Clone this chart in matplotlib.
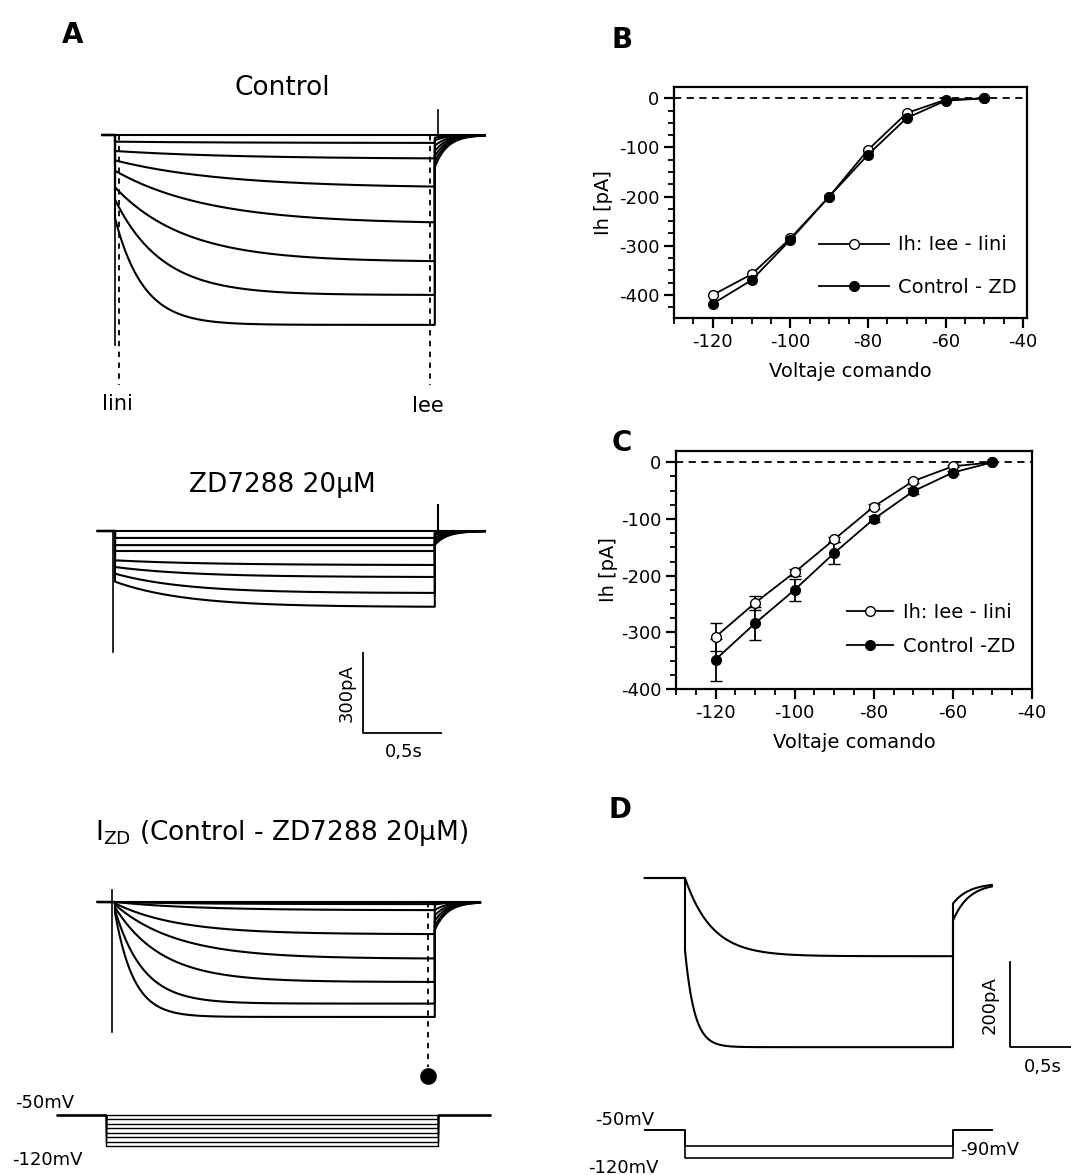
import numpy as np
import matplotlib
matplotlib.use('Agg')
import matplotlib.pyplot as plt

plt.rcParams['font.family'] = ['Liberation Sans Narrow', 'DejaVu Sans']
plt.rcParams['axes.unicode_minus'] = False

W, H = 1071, 1175

# --- A: current traces, one per command step (-50 ... -120 mV) ---
steps_mV = [-50, -60, -70, -80, -90, -100, -110, -120]

ctrl_inst = [0, -25, -60, -95, -134, -196, -242, -312]      # pA at step onset
ctrl_ss = [0, -30, -90, -199, -334, -476, -600, -712]        # pA at step end
ctrl_tau = [0.8, 0.8, 0.8, 0.7, 0.6, 0.45, 0.3, 0.18]        # s
ctrl_tail = [0, -10, -20, -40, -60, -80, -100, -120]

zd_inst = [0, -26, -53, -75, -110, -135, -160, -190]
zd_ss = [0, -26, -53, -75, -128, -173, -233, -285]
zd_tau = [0.6, 0.6, 0.6, 0.6, 0.6, 0.5, 0.45, 0.45]
zd_tail = [0, -5, -10, -15, -25, -35, -45, -52]

izd_inst = [0, 0, 0, -5, -10, -20, -30, -40]
izd_ss = [0, -8, -31, -121, -213, -300, -381, -431]
izd_tau = [0.5, 0.5, 0.5, 0.4, 0.4, 0.3, 0.18, 0.12]
izd_tail = [0, -5, -10, -30, -50, -70, -90, -105]

# --- B / C: I-V curves ---
volt = [-120, -110, -100, -90, -80, -70, -60, -50]
b_ih = [-400, -358, -285, -200, -105, -30, -3, 0]
b_zd = [-418, -370, -288, -200, -115, -40, -5, 0]

c_ih = [-308, -248, -194, -136, -78, -33, -7, 0]
c_ih_err = [25, 12, 6, 5, 5, 3, 2, 0]
c_zd = [-348, -284, -225, -160, -100, -51, -18, 0]
c_zd_err = [37, 29, 20, 19, 6, 5, 3, 0]

# --- D: two steps from -50 mV ---
d_mV = [-90, -120]
d_inst = [0, -170]
d_ss = [-184, -398]
d_tau = [0.2, 0.07]
d_tail = [-60, -100]

HOLD = -50

fig = plt.figure(figsize=(W / 100, H / 100), dpi=100)
fig.patch.set_facecolor('white')


def T(x, y, s, **kw):
    kw.setdefault('ha', 'center')
    kw.setdefault('va', 'center')
    fig.text(x / W, 1 - y / H, s, **kw)


def trace_ax(x0, x1, y0, y1, t_px0, px_s, base_py, px_unit, base=0.0):
    ax = fig.add_axes([x0 / W, 1 - y1 / H, (x1 - x0) / W, (y1 - y0) / H])
    ax.set_xlim((x0 - t_px0) / px_s, (x1 - t_px0) / px_s)
    ax.set_ylim(base - (y1 - base_py) / px_unit, base + (base_py - y0) / px_unit)
    ax.axis('off')
    return ax


def step_trace(inst, ss, tau, tail0, dur, t_pre, t_post, tail_tau=0.08, tail_end=0.0):
    ts = np.linspace(0, dur, 400)
    i_step = ss + (inst - ss) * np.exp(-ts / tau)
    tt = np.linspace(dur, t_post, 120)
    i_tail = tail_end + (tail0 - tail_end) * np.exp(-(tt - dur) / tail_tau)
    t = np.concatenate([[t_pre, 0], ts, tt])
    i = np.concatenate([[0, 0], i_step, i_tail])
    return t, i


DUR_A = 2.05
PX_S = 156
PX_PA = 1 / 3.75
lw = 1.5
fs = 13

# Control
ax = trace_ax(90, 500, 95, 400, 115, PX_S, 135, PX_PA)
for a, b, c, d in zip(ctrl_inst, ctrl_ss, ctrl_tau, ctrl_tail):
    t, i = step_trace(a, b, c, d, DUR_A, -0.08, 2.37)
    ax.plot(t, i, color='k', lw=lw)
ax.plot([0, 0], [0, -787], color='k', lw=1.2)
ax.plot([2.07, 2.07], [0, 94], color='k', lw=1.2)
ax.plot([0.026, 0.026], [0, -937], color='k', lw=1.3, ls=(0, (3, 3)))
ax.plot([2.02, 2.02], [0, -937], color='k', lw=1.3, ls=(0, (3, 3)))

# ZD7288
ax = trace_ax(90, 500, 440, 770, 115, PX_S, 531, PX_PA)
for a, b, c, d in zip(zd_inst, zd_ss, zd_tau, zd_tail):
    t, i = step_trace(a, b, c, d, DUR_A, -0.11, 2.37)
    ax.plot(t, i, color='k', lw=lw)
ax.plot([-0.01, -0.01], [0, -454], color='k', lw=1.2)
ax.plot([2.07, 2.07], [0, 97], color='k', lw=1.5)
ax.plot([1.59, 1.59, 2.09], [-457.5, -757.5, -757.5], color='k', lw=1.3)

# I_ZD
ax = trace_ax(60, 500, 870, 1100, 115, PX_S, 902, PX_PA)
for a, b, c, d in zip(izd_inst, izd_ss, izd_tau, izd_tail):
    t, i = step_trace(a, b, c, d, DUR_A, -0.11, 2.34)
    ax.plot(t, i, color='k', lw=lw)
ax.plot([-0.02, -0.02], [45, -487], color='k', lw=1.2)
ax.plot([2.006, 2.006], [0, -620], color='k', lw=1.3, ls=(0, (3, 3)))
ax.plot([2.006], [-652], 'o', color='k', ms=11)

# voltage protocol A
ax = trace_ax(40, 500, 1100, 1160, 106, 162, 1115, 0.443, base=HOLD)
for v in steps_mV:
    ax.plot([-0.3, 0, 0, DUR_A, DUR_A, 2.37], [HOLD, HOLD, v, v, HOLD, HOLD],
            color='k', lw=1.0)

# texts A
T(73, 35, 'A', fontsize=20, fontweight='bold')
T(282, 88, 'Control', fontsize=19)
T(117, 404, 'Iini', fontsize=15)
T(428, 406, 'Iee', fontsize=15)
T(282, 485, 'ZD7288 20\u00b5M', fontsize=19)
T(347, 693, '300pA', fontsize=fs, rotation=90)
T(404, 752, '0,5s', fontsize=fs)
T(282, 833, 'I$_{\\mathregular{ZD}}$ (Control - ZD7288 20\u00b5M)', fontsize=19)
T(15, 1103, '-50mV', fontsize=fs, ha='left')
T(12, 1160, '-120mV', fontsize=fs, ha='left')


# --- B / C axes ---
def iv_ax(x0, x1, y0, y1, xlim, ylim):
    ax = fig.add_axes([x0 / W, 1 - y1 / H, (x1 - x0) / W, (y1 - y0) / H])
    ax.set_xlim(*xlim)
    ax.set_ylim(*ylim)
    for s in ax.spines.values():
        s.set_linewidth(1.6)
    ax.set_xticks([-120, -100, -80, -60, -40])
    ax.set_xticks(np.arange(-130, -39, 5), minor=True)
    ax.set_yticks([0, -100, -200, -300, -400])
    ax.tick_params(which='major', direction='out', length=7, width=1.6, labelsize=13)
    ax.tick_params(which='minor', direction='out', length=4, width=1.3)
    ax.axhline(0, color='k', lw=1.3, ls=(0, (4, 3)))
    return ax


ax = iv_ax(674, 1027, 87, 318, (-130, -39), (-447, 23))
ax.set_yticks(np.arange(-425, 1, 25), minor=True)
ax.plot(volt, b_ih, '-o', color='k', mfc='white', mec='k', ms=7, lw=1.3,
        label='Ih: Iee - Iini')
ax.plot(volt, b_zd, '-o', color='k', ms=7, lw=1.3, label='Control - ZD')
ax.set_xlabel('Voltaje comando', fontsize=14, labelpad=8)
ax.set_ylabel('Ih [pA]', fontsize=14, labelpad=4)
ax.legend(loc='center left', bbox_to_anchor=(0.36, 0.225), frameon=False,
          fontsize=14, handlelength=3.6, labelspacing=1.2, handletextpad=0.5)

ax = iv_ax(676, 1032, 451, 689, (-129, -40), (-400, 20))
ax.set_yticks(np.arange(-400, 1, 25), minor=True)
ax.errorbar(volt, c_ih, yerr=c_ih_err, fmt='none', ecolor='k', capsize=4,
            elinewidth=1.3)
ax.errorbar(volt, c_zd, yerr=c_zd_err, fmt='none', ecolor='k', capsize=4,
            elinewidth=1.3)
ax.plot(volt, c_ih, '-o', color='k', mfc='white', mec='k', ms=7, lw=1.3,
        label='Ih: Iee - Iini')
ax.plot(volt, c_zd, '-o', color='k', ms=7, lw=1.3, label='Control -ZD')
ax.set_xlabel('Voltaje comando', fontsize=14, labelpad=8)
ax.set_ylabel('Ih [pA]', fontsize=14, labelpad=2)
ax.legend(loc='center left', bbox_to_anchor=(0.43, 0.25), frameon=False,
          fontsize=14, handlelength=2.4, labelspacing=0.8, handletextpad=0.5)

T(622, 40, 'B', fontsize=20, fontweight='bold')
T(622, 443, 'C', fontsize=20, fontweight='bold')
T(620, 810, 'D', fontsize=20, fontweight='bold')

# --- D traces ---
ax = trace_ax(630, 1071, 860, 1060, 685, 134, 878, 0.425)
for a, b, c, d in zip(d_inst, d_ss, d_tau, d_tail):
    t, i = step_trace(a, b, c, d, 2.0, -0.3, 2.29, tail_tau=0.12, tail_end=-12)
    ax.plot(t, i, color='k', lw=lw)
ax.plot([2.425, 2.425, 2.925], [-198, -398, -398], color='k', lw=1.3)
T(990, 1005, '200pA', fontsize=fs, rotation=90)
T(1043, 1067, '0,5s', fontsize=fs)

# voltage protocol D
ax = trace_ax(630, 1071, 1120, 1170, 685, 134, 1130, 0.4, base=HOLD)
for v in d_mV:
    ax.plot([-0.3, 0, 0, 2.0, 2.0, 2.29], [HOLD, HOLD, v, v, HOLD, HOLD],
            color='k', lw=1.2)
T(595, 1120, '-50mV', fontsize=fs, ha='left')
T(960, 1150, '-90mV', fontsize=fs, ha='left')
T(588, 1168, '-120mV', fontsize=fs, ha='left')

fig.savefig('out.png', dpi=100, facecolor='white')
